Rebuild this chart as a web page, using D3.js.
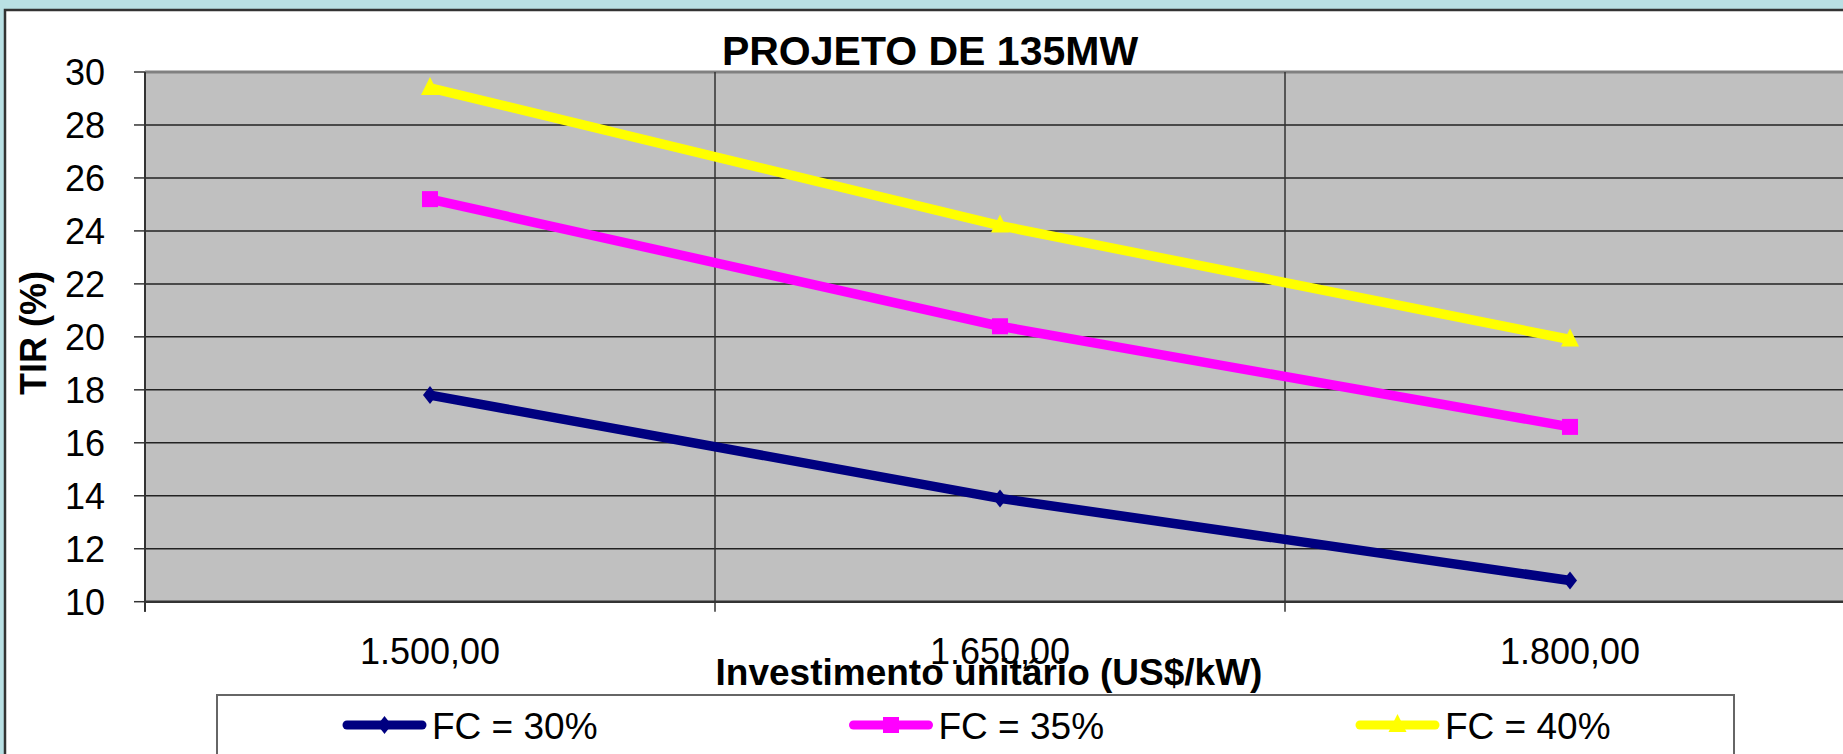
<!DOCTYPE html>
<html>
<head>
<meta charset="utf-8">
<script src="https://cdn.jsdelivr.net/npm/d3@7"></script>
<style>
  html, body { margin: 0; padding: 0; background: #b9e0e4; }
  svg { display: block; }
  text { font-family: Arial, "Liberation Sans", sans-serif; fill: #000; }
</style>
</head>
<body>
<svg id="chart" width="1843" height="754"></svg>
<script>
// ---- data ----
const categories = ["1.500,00", "1.650,00", "1.800,00"];
const seriesNames = ["FC = 30%", "FC = 35%", "FC = 40%"];
const fc30 = [17.8, 13.9, 10.8];
const fc35 = [25.2, 20.4, 16.6];
const fc40 = [29.4, 24.2, 19.9];
const yTicks = [10, 12, 14, 16, 18, 20, 22, 24, 26, 28, 30];
const chartTitle = "PROJETO DE 135MW";
const xTitle = "Investimento unitário (US$/kW)";
const yTitle = "TIR (%)";

const colors = ["#000080", "#ff00ff", "#ffff00"];
const markers = ["diamond", "square", "triangle"];
const seriesValues = [fc30, fc35, fc40];

const svg = d3.select("#chart");
const W = 1843, H = 754;

// background & chart frame
svg.append("rect").attr("x", 0).attr("y", 0).attr("width", W).attr("height", H).attr("fill", "#b9e0e4");
svg.append("rect").attr("x", 5).attr("y", 10).attr("width", 1900).attr("height", 900)
  .attr("fill", "#ffffff").attr("stroke", "#333").attr("stroke-width", 2.5);

const plot = { left: 145, top: 72, bottom: 601.7, catW: 570 };
const x = d3.scaleBand().domain(categories).range([plot.left, plot.left + plot.catW * categories.length]).padding(0);
const y = d3.scaleLinear().domain([10, 30]).range([plot.bottom, plot.top]);

// plot area
svg.append("rect").attr("x", plot.left).attr("y", plot.top)
  .attr("width", x.range()[1] - plot.left).attr("height", plot.bottom - plot.top)
  .attr("fill", "#c0c0c0");

// horizontal gridlines
svg.append("g").selectAll("line").data(yTicks.filter(d => d > 10 && d < 30)).join("line")
  .attr("x1", plot.left).attr("x2", x.range()[1])
  .attr("y1", d => y(d)).attr("y2", d => y(d))
  .attr("stroke", "#222").attr("stroke-width", 1.5);
// top border
svg.append("line").attr("x1", plot.left).attr("x2", x.range()[1])
  .attr("y1", y(30)).attr("y2", y(30)).attr("stroke", "#808080").attr("stroke-width", 3);

// vertical gridlines at category boundaries
const bounds = categories.map(c => x(c)).slice(1);
svg.append("g").selectAll("line").data(bounds).join("line")
  .attr("x1", d => d).attr("x2", d => d)
  .attr("y1", plot.top).attr("y2", plot.bottom)
  .attr("stroke", "#333").attr("stroke-width", 1.5);

// x axis ticks (category boundaries)
svg.append("g").selectAll("line").data(categories.map(c => x(c))).join("line")
  .attr("x1", d => d).attr("x2", d => d)
  .attr("y1", plot.bottom).attr("y2", plot.bottom + 10)
  .attr("stroke", "#333").attr("stroke-width", 1.5);

// y axis line and ticks
svg.append("line").attr("x1", plot.left).attr("x2", plot.left)
  .attr("y1", plot.top).attr("y2", plot.bottom + 10)
  .attr("stroke", "#333").attr("stroke-width", 2);
svg.append("g").selectAll("line").data(yTicks).join("line")
  .attr("x1", plot.left - 11).attr("x2", plot.left)
  .attr("y1", d => y(d)).attr("y2", d => y(d))
  .attr("stroke", "#333").attr("stroke-width", 1.5);
// x axis line
svg.append("line").attr("x1", plot.left).attr("x2", x.range()[1])
  .attr("y1", plot.bottom).attr("y2", plot.bottom)
  .attr("stroke", "#333").attr("stroke-width", 2.5);

// y tick labels
svg.append("g").selectAll("text").data(yTicks).join("text")
  .attr("x", 105).attr("y", d => y(d)).attr("dy", "0.36em")
  .attr("text-anchor", "end").attr("font-size", 36)
  .text(d => d);

// x tick labels
svg.append("g").selectAll("text").data(categories).join("text")
  .attr("x", d => x(d) + x.bandwidth() / 2).attr("y", 664)
  .attr("text-anchor", "middle").attr("font-size", 36)
  .text(d => d);

// titles
svg.append("text").attr("x", 930).attr("y", 65).attr("text-anchor", "middle")
  .attr("font-size", 41).attr("font-weight", "bold").text(chartTitle);
svg.append("text").attr("x", 989).attr("y", 685).attr("text-anchor", "middle")
  .attr("font-size", 37).attr("font-weight", "bold").text(xTitle);
svg.append("text").attr("transform", "translate(46,333) rotate(-90)")
  .attr("text-anchor", "middle").attr("font-size", 36).attr("font-weight", "bold").text(yTitle);

// marker drawing
function drawMarker(g, type, cx, cy, color) {
  if (type === "diamond") {
    g.append("path").attr("d", `M${cx},${cy - 9} L${cx + 7},${cy} L${cx},${cy + 9} L${cx - 7},${cy} Z`).attr("fill", color);
  } else if (type === "square") {
    g.append("rect").attr("x", cx - 8).attr("y", cy - 8).attr("width", 16).attr("height", 16).attr("fill", color);
  } else {
    g.append("path").attr("d", `M${cx},${cy - 11} L${cx + 9},${cy + 7} L${cx - 9},${cy + 7} Z`).attr("fill", color);
  }
}

// series
const line = d3.line().x((d, i) => x(categories[i]) + x.bandwidth() / 2).y(d => y(d));
seriesValues.forEach((vals, s) => {
  const g = svg.append("g");
  g.append("path").attr("d", line(vals)).attr("fill", "none")
    .attr("stroke", colors[s]).attr("stroke-width", 9.5).attr("stroke-linejoin", "round");
  vals.forEach((v, i) => drawMarker(g, markers[s], x(categories[i]) + x.bandwidth() / 2, y(v), colors[s]));
});

// legend
svg.append("rect").attr("x", 217).attr("y", 695).attr("width", 1517).attr("height", 120)
  .attr("fill", "#ffffff").attr("stroke", "#666").attr("stroke-width", 2);
const legendX = d3.scalePoint().domain(seriesNames).range([347, 1360]);
seriesNames.forEach((name, s) => {
  const lx = legendX(name), ly = 725;
  const g = svg.append("g");
  g.append("line").attr("x1", lx).attr("x2", lx + 75).attr("y1", ly).attr("y2", ly)
    .attr("stroke", colors[s]).attr("stroke-width", 9).attr("stroke-linecap", "round");
  drawMarker(g, markers[s], lx + 37.5, ly, colors[s]);
  g.append("text").attr("x", lx + 85).attr("y", 739).attr("font-size", 37).text(name);
});
</script>
</body>
</html>
